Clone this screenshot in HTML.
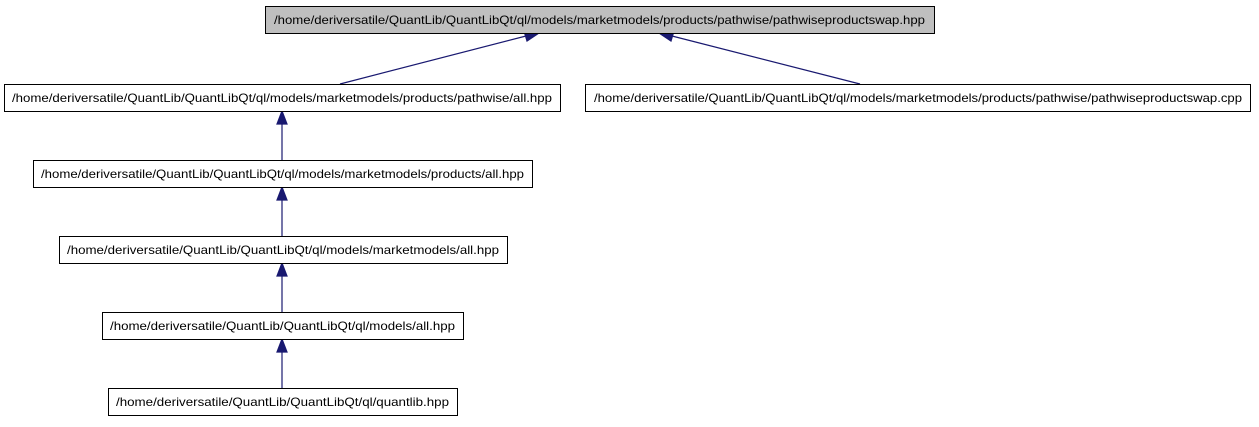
<!DOCTYPE html>
<html><head><meta charset="utf-8"><style>html,body{margin:0;padding:0;background:#fff;}svg{display:block}</style></head>
<body>
<svg width="1259" height="427" viewBox="0 0 1259 427" xmlns="http://www.w3.org/2000/svg" font-family="'Liberation Sans', sans-serif" font-size="12">
<g stroke="#191970" stroke-width="1.2" fill="#191970">
<line x1="340" y1="84" x2="526" y2="36"/>
<polygon points="539,33 524,31 527,41"/>
<line x1="860" y1="84" x2="672" y2="36"/>
<polygon points="659,33 671,41 674,31"/>
<line x1="282" y1="160" x2="282" y2="124"/>
<polygon points="282,111 277,124 287,124"/>
<line x1="282" y1="236" x2="282" y2="200"/>
<polygon points="282,187 277,200 287,200"/>
<line x1="282" y1="312" x2="282" y2="276"/>
<polygon points="282,263 277,276 287,276"/>
<line x1="282" y1="388" x2="282" y2="352"/>
<polygon points="282,339 277,352 287,352"/>
</g>
<g stroke="#000" stroke-width="1">
<rect x="265.5" y="6.5" width="669" height="27" fill="#bfbfbf"/>
<rect x="4.5" y="84.5" width="556" height="27" fill="#fff"/>
<rect x="585.5" y="84.5" width="665" height="27" fill="#fff"/>
<rect x="33.5" y="160.5" width="499" height="27" fill="#fff"/>
<rect x="59.5" y="236.5" width="448" height="27" fill="#fff"/>
<rect x="102.5" y="312.5" width="361" height="27" fill="#fff"/>
<rect x="108.5" y="388.5" width="349" height="27" fill="#fff"/>
</g>
<g fill="#000" lengthAdjust="spacingAndGlyphs">
<text x="274" y="24" textLength="651" lengthAdjust="spacingAndGlyphs">/home/deriversatile/QuantLib/QuantLibQt/ql/models/marketmodels/products/pathwise/pathwiseproductswap.hpp</text>
<text x="12" y="102" textLength="540" lengthAdjust="spacingAndGlyphs">/home/deriversatile/QuantLib/QuantLibQt/ql/models/marketmodels/products/pathwise/all.hpp</text>
<text x="594" y="102" textLength="648" lengthAdjust="spacingAndGlyphs">/home/deriversatile/QuantLib/QuantLibQt/ql/models/marketmodels/products/pathwise/pathwiseproductswap.cpp</text>
<text x="41" y="178" textLength="483" lengthAdjust="spacingAndGlyphs">/home/deriversatile/QuantLib/QuantLibQt/ql/models/marketmodels/products/all.hpp</text>
<text x="67" y="254" textLength="432" lengthAdjust="spacingAndGlyphs">/home/deriversatile/QuantLib/QuantLibQt/ql/models/marketmodels/all.hpp</text>
<text x="110" y="330" textLength="345" lengthAdjust="spacingAndGlyphs">/home/deriversatile/QuantLib/QuantLibQt/ql/models/all.hpp</text>
<text x="116" y="406" textLength="333" lengthAdjust="spacingAndGlyphs">/home/deriversatile/QuantLib/QuantLibQt/ql/quantlib.hpp</text>
</g>
</svg>
</body></html>
